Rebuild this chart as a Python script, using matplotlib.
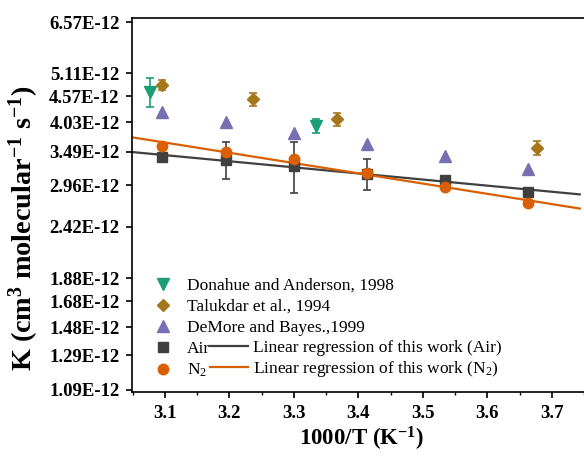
import matplotlib
matplotlib.use("Agg")
import matplotlib.pyplot as plt
import numpy as np
from matplotlib.lines import Line2D
from matplotlib.ticker import NullLocator

plt.rcParams['font.family'] = 'Liberation Serif'
plt.rcParams['mathtext.fontset'] = 'custom'
plt.rcParams['mathtext.rm'] = 'Liberation Serif'
plt.rcParams['mathtext.it'] = 'Liberation Serif:italic'
plt.rcParams['mathtext.bf'] = 'Liberation Serif:bold'

# this work (K in units of 1E-12)
x_work = [3.095, 3.195, 3.300, 3.413, 3.534, 3.663]
k_air = [3.40, 3.35, 3.25, 3.13, 3.04, 2.87]
err_air = [np.nan, 0.30, 0.40, 0.24, np.nan, np.nan]
k_n2 = [3.59, 3.49, 3.36, 3.15, 2.93, 2.72]

# literature
x_donahue = [3.077, 3.334]
k_donahue = [4.66, 3.96]
err_donahue = [0.33, 0.13]
x_talukdar = [3.096, 3.236, 3.367, 3.677]
k_talukdar = [4.83, 4.505, 4.09, 3.547]
err_talukdar = [0.12, 0.14, 0.13, 0.12]
x_demore = [3.096, 3.195, 3.300, 3.413, 3.534, 3.663]
k_demore = [4.24, 4.03, 3.83, 3.62, 3.42, 3.20]

ytick_vals = [1.09, 1.29, 1.48, 1.68, 1.88, 2.42, 2.96, 3.49, 4.03, 4.57, 5.11, 6.57]
xtick_vals = [3.1, 3.2, 3.3, 3.4, 3.5, 3.6, 3.7]

c_green = '#1b9e77'
c_brown = '#a6761d'
c_purple = '#7570b3'
c_gray = '#404040'
c_orange = '#d95f02'

fig = plt.figure(figsize=(5.84, 4.59), dpi=100)
ax = fig.add_axes([132/584, 1-392/459, 1-132/584, (392-18)/459])
ax.set_yscale('log')
xmin, xmax = 3.049, 3.7435
ax.set_xlim(xmin, xmax)
ax.set_ylim(1.079e-12, 6.70e-12)

# regression lines (fit of ln K vs 1000/T)
xs = np.linspace(xmin, xmax, 50)
fit_air = np.polyfit(x_work, np.log(np.array(k_air) * 1e-12), 1)
fit_n2 = np.polyfit(x_work, np.log(np.array(k_n2) * 1e-12), 1)
ax.plot(xs, np.exp(np.polyval(fit_air, xs)), color=c_gray, lw=1.6, zorder=2)
ax.plot(xs, np.exp(np.polyval(fit_n2, xs)), color=c_orange, lw=1.6, zorder=2.1)

s = 1e-12
ax.errorbar(x_donahue, np.array(k_donahue)*s, yerr=np.array(err_donahue)*s, fmt='v',
            color=c_green, ms=8, capsize=3, elinewidth=1.2, capthick=1.2, zorder=3)
ax.errorbar(x_talukdar, np.array(k_talukdar)*s, yerr=np.array(err_talukdar)*s, fmt='D',
            color=c_brown, ms=6.5, capsize=3, elinewidth=1.2, capthick=1.2, zorder=3)
ax.plot(x_demore, np.array(k_demore)*s, '^', color=c_purple, ms=8, ls='none', zorder=3)
ax.errorbar(x_work, np.array(k_air)*s, yerr=np.array(err_air)*s, fmt='s',
            color=c_gray, ms=7, capsize=3, elinewidth=1.2, capthick=1.2, zorder=3)
ax.plot(x_work, np.array(k_n2)*s, 'o', color=c_orange, ms=7.5, ls='none', zorder=3.1)

ax.yaxis.set_minor_locator(NullLocator())
ax.set_yticks([v*s for v in ytick_vals])
ax.set_yticklabels(['%.2fE-12' % v for v in ytick_vals])
ax.set_xticks(xtick_vals)
ax.set_xticklabels(['%.1f' % v for v in xtick_vals])
ax.set_xticks(np.arange(3.05, 3.75, 0.1), minor=True)

for lab in ax.get_xticklabels() + ax.get_yticklabels():
    lab.set_fontweight('bold')
    lab.set_fontsize(13.5)
ax.tick_params(axis='both', which='major', direction='out', length=4, width=1.2, pad=5)
ax.tick_params(axis='x', which='minor', direction='out', length=2.5, width=1.0)
for sp in ['left', 'bottom', 'top']:
    ax.spines[sp].set_linewidth(1.2)
ax.spines['right'].set_visible(False)

fig.text(24/584, 1-228/459, r'K (cm$^{\mathbf{3}}$ molecular$^{\mathbf{-1}}$ s$^{\mathbf{-1}}$)',
         rotation=90, ha='center', va='center', fontsize=20.3, fontweight='bold')
fig.text(361/584, 1-439/459, r'1000/T (K$^{\mathbf{-1}}$)', ha='center', va='center',
         fontsize=16.5, fontweight='bold')

# legends
h1 = [Line2D([], [], marker='v', color=c_green, ls='none', ms=8),
      Line2D([], [], marker='D', color=c_brown, ls='none', ms=6.5),
      Line2D([], [], marker='^', color=c_purple, ls='none', ms=8),
      Line2D([], [], marker='s', color=c_gray, ls='none', ms=7),
      Line2D([], [], marker='o', color=c_orange, ls='none', ms=7.5)]
l1 = ['Donahue and Anderson, 1998', 'Talukdar et al., 1994', 'DeMore and Bayes.,1999',
      'Air', r'N$_2$']
leg1 = fig.legend(h1, l1, loc='lower left', bbox_to_anchor=(154/584, 1-379/459),
                  frameon=False, fontsize=12.5, handlelength=1.0, handletextpad=0.9,
                  borderpad=0, borderaxespad=0, labelspacing=0.28, numpoints=1)
h2 = [Line2D([], [], color=c_gray, lw=1.6), Line2D([], [], color=c_orange, lw=1.6)]
l2 = ['Linear regression of this work (Air)', r'Linear regression of this work (N$_2$)']
leg2 = fig.legend(h2, l2, loc='lower left', bbox_to_anchor=(210/584, 1-379/459),
                  frameon=False, fontsize=12.5, handlelength=2.2, handletextpad=0.3,
                  borderpad=0, borderaxespad=0, labelspacing=0.18)

fig.savefig('out.png', dpi=100)
